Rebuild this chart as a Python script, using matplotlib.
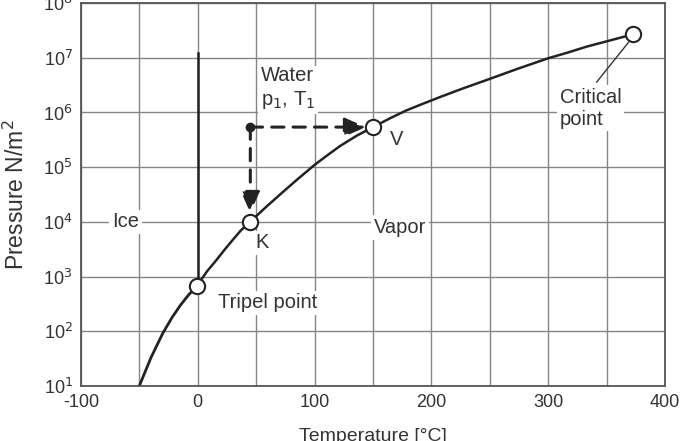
import numpy as np
import matplotlib
matplotlib.use("Agg")
from matplotlib import pyplot as plt

plt.rcParams['font.family'] = ['Liberation Sans', 'DejaVu Sans']

# sublimation curve (ice / vapor)
subl_T = [-50, -40, -30, -22, -15, -8, -1]
subl_p = [10, 33, 91, 178, 295, 457, 660]

# vaporization curve (water / vapor)
vap_T = [-1, 8, 16, 23, 30, 37, 45, 57, 70, 85, 100, 111, 122, 136, 150,
         165, 179, 193, 207, 227, 247, 273, 300, 317, 333, 352, 373]
vap_p = [660, 1250, 2000, 3100, 4680, 7000, 1.0e4, 1.75e4, 3.1e4, 5.9e4,
         1.1e5, 1.65e5, 2.45e5, 3.75e5, 5.4e5, 7.9e5, 1.1e6, 1.45e6, 1.9e6,
         2.75e6, 3.9e6, 6.2e6, 9.8e6, 1.25e7, 1.6e7, 2.05e7, 2.7e7]

# melting line (ice / water)
melt_T = [0, 0]
melt_p = [660, 1.2e7]

# marked points
pt_names = ['Tripel', 'K', 'V', 'Critical']
pt_T = [-1, 45, 150, 373]
pt_p = [660, 1.0e4, 5.4e5, 2.7e7]

# start state p1, T1
start_T = 45
start_p = 5.4e5

xticks = [-100, 0, 100, 200, 300, 400]
xtick_labels = ['-100', '0', '100', '200', '300', '400']
yticks = [1e1, 1e2, 1e3, 1e4, 1e5, 1e6, 1e7, 1e8]
ytick_labels = ['10$^{%d}$' % i for i in range(1, 9)]

fig = plt.figure(figsize=(6.8, 4.41), dpi=100)
ax = fig.add_axes([0.119, 0.125, 0.859, 0.868])

ax.set_xlim(-100, 400)
ax.set_yscale('log')
ax.set_ylim(1e1, 1e8)
ax.set_xticks(xticks)
ax.set_xticklabels(xtick_labels)
ax.set_xticks(np.arange(-100, 401, 50), minor=True)
ax.set_yticks(yticks)
ax.set_yticklabels(ytick_labels)
ax.yaxis.set_minor_locator(matplotlib.ticker.NullLocator())
ax.tick_params(which='both', length=0, labelsize=13, colors='#333333', pad=6)
ax.grid(True, which='both', color='#858585', lw=1)
ax.set_axisbelow(True)
for s in ax.spines.values():
    s.set_color('#555555')
    s.set_linewidth(1.3)

ax.set_xlabel('Temperature [°C]', fontsize=14, color='#333333', labelpad=12)
ax.set_ylabel('Pressure N/m$^2$', fontsize=16.5, color='#333333', labelpad=10)

ax.plot(subl_T, subl_p, color='#222222', lw=2)
ax.plot(vap_T, vap_p, color='#222222', lw=1.8)
ax.plot(melt_T, melt_p, color='#222222', lw=1.8)

# dashed paths from p1,T1
arr = dict(arrowstyle='-|>,head_length=0.8,head_width=0.35', lw=2.2,
           ls=(0, (4, 3)), color='#222222', mutation_scale=16,
           shrinkA=0, shrinkB=0)
ax.annotate('', xy=(pt_T[2] - 6, start_p), xytext=(start_T, start_p), arrowprops=arr)
ax.annotate('', xy=(start_T, pt_p[1] * 1.45), xytext=(start_T, start_p), arrowprops=arr)
ax.plot([start_T], [start_p], 'o', color='#222222', ms=6, zorder=5)

ax.plot(pt_T, pt_p, 'o', ms=11, mfc='white', mec='#222222', mew=1.5, zorder=6)

box = dict(facecolor='white', edgecolor='none', pad=2)
tk = dict(fontsize=14.5, color='#333333', bbox=box)
ax.text(-62, 1e4, 'Ice', ha='center', va='center', **tk)
ax.text(173, 7.8e3, 'Vapor', ha='center', va='center', **tk)
ax.text(77, 2.7e6, 'Water\np$_1$, T$_1$', ha='center', va='center',
        linespacing=1.25, **tk)
ax.text(55, 4.1e3, 'K', ha='center', va='center', **tk)
ax.text(170, 3.2e5, 'V', ha='center', va='center', **tk)
ax.text(60, 330, 'Tripel point', ha='center', va='center', **tk)
ax.text(310, 1.2e6, 'Critical\npoint', ha='left', va='center',
        linespacing=1.2, **tk)
ax.plot([341.5, 368.6], [3.6e6, 1.9e7], color='#333333', lw=1)

fig.savefig('out.png', dpi=100)
